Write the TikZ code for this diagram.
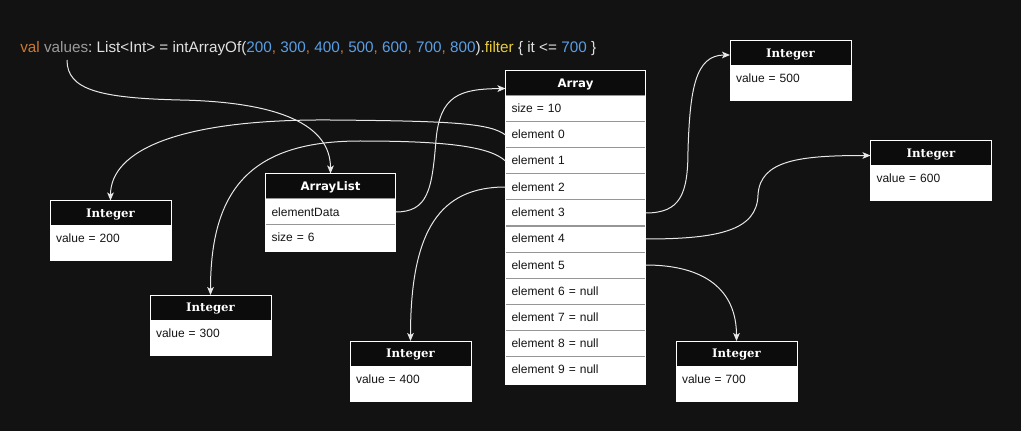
\documentclass[tikz,border=0pt]{standalone}
\usepackage{fontspec}
\setmainfont{Liberation Sans}[Ligatures=NoCommon]
\newfontfamily\hsans{DejaVu Sans}
\newfontfamily\hserif{DejaVu Serif}
\usetikzlibrary{arrows.meta}
\definecolor{bgc}{RGB}{18,18,18}
\definecolor{hdrc}{RGB}{12,12,12}
\definecolor{rowc}{RGB}{150,150,150}
\definecolor{txtc}{RGB}{20,20,20}
\definecolor{linec}{RGB}{232,232,232}
\definecolor{kwc}{RGB}{204,120,50}
\definecolor{varc}{RGB}{155,155,155}
\definecolor{plc}{RGB}{225,225,225}
\definecolor{numc}{RGB}{90,159,230}
\definecolor{fnc}{RGB}{232,204,60}
\begin{document}
\begin{tikzpicture}[x=0.75pt,y=-0.75pt,
  hdr/.style={rectangle, draw=white, fill=hdrc, text=white, inner sep=0pt, outer sep=0pt,
    minimum height=18.75pt, text height=6.6pt, text depth=0pt,
    anchor=north west, line width=0.75pt},
  arrhdr/.style={hdr, font=\hsans\bfseries\fontsize{8.8}{10}\selectfont},
  inthdr/.style={hdr, font=\hserif\bfseries\fontsize{8.8}{10}\selectfont, minimum width=90.75pt},
  rowbox/.style={rectangle, draw=rowc, fill=white, text=txtc, outer sep=0pt,
    font=\fontsize{9}{11}\selectfont, anchor=north west,
    inner xsep=4.5pt, inner ysep=6.25pt, text height=6.5pt, text depth=0.5pt,
    align=left, line width=0.75pt},
  arow/.style={rowbox, text width=96pt, minimum width=105pt},
  lrow/.style={rowbox, text width=88.5pt, minimum width=97.5pt},
  ival/.style={rowbox, draw=white, text width=81.75pt, minimum width=90.75pt, text depth=7.25pt},
  outline/.style={draw=white, line width=0.75pt},
  conn/.style={draw=linec, line width=0.75pt, -{Stealth[length=6pt,width=5pt,inset=1.5pt]}}
]
\fill[bgc] (0,0) rectangle (1021,431);
\useasboundingbox (0,0) rectangle (1021,431);

% code line
\node[anchor=base west, inner sep=0pt, font=\fontsize{11.45}{14}\selectfont] (code) at (20,52.5)
{\textcolor{kwc}{val}\ \textcolor{varc}{values}\textcolor{plc}{:\ List<Int>\ =\ intArrayOf(}\textcolor{numc}{200}\textcolor{kwc}{,\ }\textcolor{numc}{300}\textcolor{kwc}{,\ }\textcolor{numc}{400}\textcolor{kwc}{,\ }\textcolor{numc}{500}\textcolor{kwc}{,\ }\textcolor{numc}{600}\textcolor{kwc}{,\ }\textcolor{numc}{700}\textcolor{kwc}{,\ }\textcolor{numc}{800}\textcolor{plc}{).}\textcolor{fnc}{filter}\textcolor{plc}{\ \{\ it\ <=\ }\textcolor{numc}{700}\textcolor{plc}{\ \}}};
\coordinate (vstart) at (67,60);

% Array
\node[arrhdr, minimum width=105pt] (arr) at (505.5,71) {Array};
\node[arow] (asize) at (arr.south west) {size = 10};
\node[arow] (a0) at (asize.south west) {element 0};
\node[arow] (a1) at (a0.south west) {element 1};
\node[arow] (a2) at (a1.south west) {element 2};
\node[arow] (a3) at (a2.south west) {element 3};
\node[arow] (a4) at (a3.south west) {element 4};
\node[arow] (a5) at (a4.south west) {element 5};
\node[arow] (a6) at (a5.south west) {element 6 = null};
\node[arow] (a7) at (a6.south west) {element 7 = null};
\node[arow] (a8) at (a7.south west) {element 8 = null};
\node[arow, minimum height=21.375pt, text depth=2.375pt] (a9) at (a8.south west) {element 9 = null};
\draw[outline] (arr.north west) rectangle (a9.south east);

% ArrayList
\node[arrhdr, minimum width=97.5pt, minimum height=19.125pt] (al) at (265.5,173.5) {ArrayList};
\node[lrow] (ald) at (al.south west) {elementData};
\node[lrow] (als) at (ald.south west) {size = 6};
\draw[outline] (al.north west) rectangle (als.south east);

% Integers
\foreach \nm/\xx/\yy/\vv in {i200/50/200.5/200, i300/150/295/300, i400/350/341/400,
                             i500/730/40.5/500, i600/870.5/141/600, i700/676/341/700}{
  \node[inthdr] (\nm) at (\xx,\yy) {Integer};
  \node[ival] (\nm v) at (\nm.south west) {value = \vv};
  \draw[outline] (\nm.north west) rectangle (\nm v.south east);
}

% connectors
\draw[conn] (vstart) .. controls (67,90) and (100,98) .. (180,100)
                     .. controls (280,102) and (330.5,125) .. (al.north);
\draw[conn] (ald.east) .. controls (428,212) and (432,190) .. (436,140)
                       .. controls (440,95) and (460,89) .. ([yshift=-3.75pt]arr.west);
\draw[conn] (a0.west) .. controls (490,123) and (450,121) .. (330,120)
                      .. controls (180,119) and (110.5,150) .. (i200.north);
\draw[conn] (a1.west) .. controls (490,147) and (450,141) .. (360,141)
                      .. controls (250,141) and (210.5,190) .. (i300.north);
\draw[conn] (a2.west) .. controls (440,187) and (410.5,230) .. (i400.north);
\draw[conn] (a3.east) .. controls (680,213) and (688,195) .. (688,150)
                      .. controls (690,90) and (695,55) .. ([yshift=-1.5pt]i500.west);
\draw[conn] (a4.east) .. controls (720,239) and (757,230) .. (758,195)
                      .. controls (760,160) and (800,155.5) .. ([yshift=-1.5pt]i600.west);
\draw[conn] (a5.east) .. controls (705,265) and (736.5,290) .. (i700.north);
\end{tikzpicture}
\end{document}
